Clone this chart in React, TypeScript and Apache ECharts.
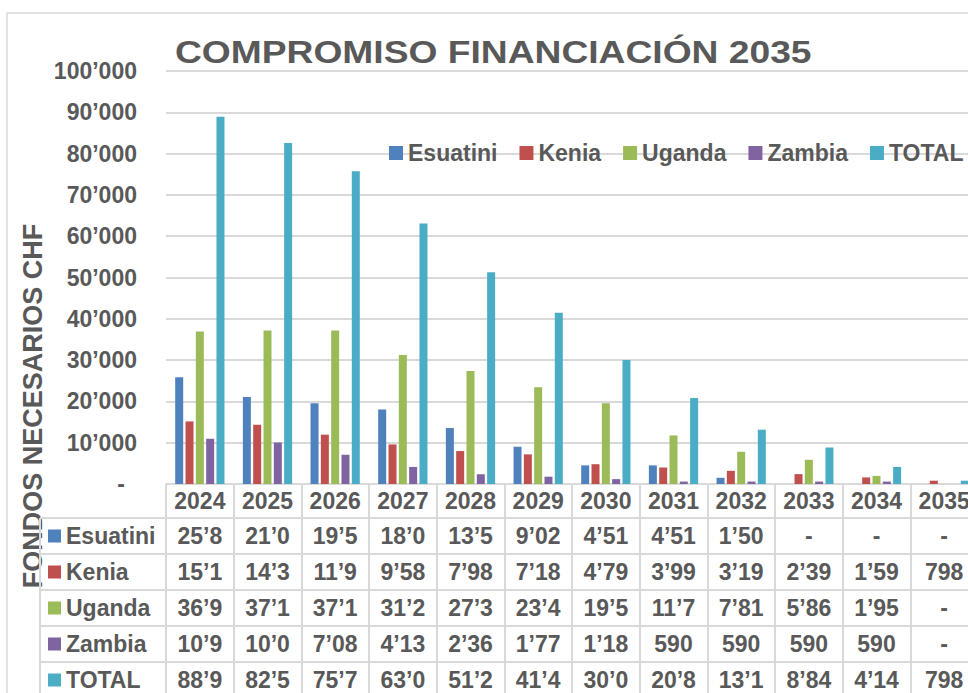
import React, { useEffect, useRef } from "react";
import * as echarts from "echarts";

// ---- data ----
const years = ["2024", "2025", "2026", "2027", "2028", "2029", "2030", "2031", "2032", "2033", "2034", "2035"];
const seriesNames = ["Esuatini", "Kenia", "Uganda", "Zambia", "TOTAL"];
const esuatini = [25850, 21050, 19550, 18050, 13550, 9020, 4510, 4510, 1500, 0, 0, 0];
const kenia = [15150, 14350, 11950, 9580, 7980, 7180, 4790, 3990, 3190, 2390, 1595, 798];
const uganda = [36950, 37150, 37150, 31250, 27350, 23450, 19550, 11750, 7810, 5860, 1955, 0];
const zambia = [10950, 10050, 7080, 4130, 2360, 1770, 1180, 590, 590, 590, 590, 0];
const total = [88950, 82550, 75750, 63050, 51250, 41450, 30050, 20850, 13150, 8840, 4140, 798];
const title = "COMPROMISO FINANCIACIÓN 2035";
const yAxisTitle = "FONDOS NECESARIOS CHF";
const yMin = 0;
const yMax = 100000;
const yStep = 10000;

// ---- style ----
const colors = ["#4F81BD", "#C0504D", "#9BBB59", "#8064A2", "#4BACC6"];
const TEXT = "#595959";
const LINE = "#d9d9d9";
const FONT = "'Liberation Sans', Arial, sans-serif";
const GRID_LEFT = 166;
const GRID_TOP = 71;
const GRID_H = 413;
const GRID_W = 812;
const HEADER_H = 34;
const ROW_H = 36;

const fmt = (v: number) => {
  if (v === 0) return "-";
  return Math.round(v)
    .toString()
    .replace(/\B(?=(\d{3})+(?!\d))/g, "\u2019");
};
const cellText = (v: number) => fmt(v).slice(0, 4);

export default function App() {
  const ref = useRef<HTMLDivElement>(null);

  useEffect(() => {
    if (!ref.current) return;
    const chart = echarts.init(ref.current, undefined, { renderer: "svg" });
    const rows = [esuatini, kenia, uganda, zambia, total];
    const axisBottom = GRID_TOP + GRID_H;
    const rowOffsets = rows.map((_, i) => HEADER_H + i * ROW_H);

    const baseLabel = {
      fontSize: 23,
      fontWeight: "bold" as const,
      color: TEXT,
      fontFamily: FONT,
    };

    const xAxes: any[] = [
      {
        type: "category",
        data: years,
        position: "bottom",
        gridIndex: 0,
        offset: 0,
        axisLine: { show: true, lineStyle: { color: LINE, width: 2 } },
        axisTick: { show: true, interval: 0, length: 230, lineStyle: { color: LINE, width: 2 } },
        axisLabel: { ...baseLabel, interval: 0, margin: HEADER_H / 2, verticalAlign: "middle" },
      },
      ...rows.map((row, i) => ({
        type: "category",
        data: years,
        position: "bottom",
        gridIndex: 0,
        offset: rowOffsets[i],
        axisLine: { show: true, lineStyle: { color: LINE, width: 2 } },
        axisTick: { show: false },
        axisLabel: {
          ...baseLabel,
          interval: 0,
          margin: ROW_H / 2,
          verticalAlign: "middle",
          formatter: (_v: string, idx: number) => cellText(row[idx]),
        },
      })),
    ];

    const graphics: any[] = [
      {
        type: "rect",
        z: -10,
        shape: { x: 7, y: 13, width: 1100, height: 1000 },
        style: { fill: "none", stroke: LINE, lineWidth: 1.5 },
      },
      {
        type: "text",
        x: 175,
        y: 52,
        scaleX: 1.2,
        style: {
          text: title,
          fill: TEXT,
          font: `bold 31px ${FONT}`,
          textAlign: "left",
          textVerticalAlign: "middle",
        },
      },
      {
        type: "text",
        x: 33,
        y: 406,
        rotation: Math.PI / 2,
        style: {
          text: yAxisTitle,
          fill: TEXT,
          font: `bold 27px ${FONT}`,
          textAlign: "center",
          textVerticalAlign: "middle",
        },
      },
      {
        type: "line",
        shape: { x1: 40, y1: axisBottom + HEADER_H, x2: 40, y2: 720 },
        style: { stroke: LINE, lineWidth: 2 },
      },
    ];
    rows.forEach((_, i) => {
      const top = axisBottom + rowOffsets[i];
      const cy = top + ROW_H / 2;
      graphics.push({
        type: "line",
        shape: { x1: 40, y1: top, x2: GRID_LEFT, y2: top },
        style: { stroke: LINE, lineWidth: 2 },
      });
      graphics.push({
        type: "rect",
        shape: { x: 48, y: cy - 6.5, width: 13, height: 13 },
        style: { fill: colors[i] },
      });
      graphics.push({
        type: "text",
        x: 66,
        y: cy,
        style: {
          text: seriesNames[i],
          fill: TEXT,
          font: `bold 23px ${FONT}`,
          textAlign: "left",
          textVerticalAlign: "middle",
        },
      });
    });

    chart.setOption({
      animation: false,
      color: colors,
      textStyle: { fontFamily: FONT },
      grid: {
        left: GRID_LEFT,
        top: GRID_TOP,
        width: GRID_W,
        height: GRID_H,
        containLabel: false,
        outerBoundsMode: "none",
      },
      legend: {
        show: true,
        left: 389,
        top: 141,
        padding: 0,
        itemGap: 22,
        itemWidth: 14,
        itemHeight: 14,
        icon: "rect",
        data: seriesNames,
        textStyle: { ...baseLabel, lineHeight: 24, padding: [0, 0, 0, 0] },
      },
      xAxis: xAxes,
      yAxis: {
        type: "value",
        min: yMin,
        max: yMax,
        interval: yStep,
        axisLine: { show: false },
        axisTick: { show: false },
        splitLine: { show: true, lineStyle: { color: LINE, width: 2 } },
        axisLabel: {
          ...baseLabel,
          margin: 29,
          formatter: (v: number) => (v === 0 ? "{d|-}" : fmt(v)),
          rich: { d: { ...baseLabel, padding: [0, 12, 0, 0] } },
        },
      },
      series: rows.map((row, i) => ({
        name: seriesNames[i],
        type: "bar",
        xAxisIndex: 0,
        data: row,
        barWidth: 8,
        barGap: "29%",
        itemStyle: { color: colors[i] },
      })),
      graphic: graphics,
    });

    return () => chart.dispose();
  }, []);

  return (
    <div
      ref={ref}
      style={{ position: "absolute", left: 0, top: 0, width: 968, height: 693, background: "#fff" }}
    />
  );
}
